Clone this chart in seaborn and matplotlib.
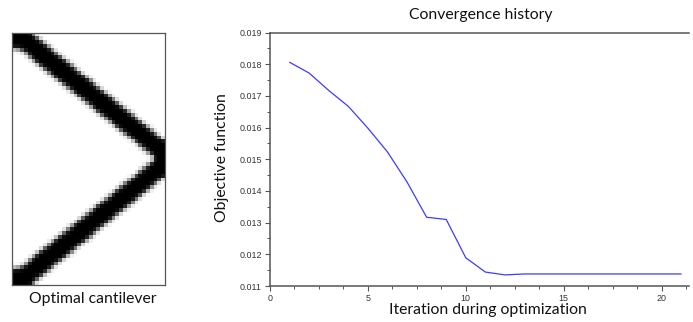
import numpy as np
import pandas as pd
import seaborn as sns
import matplotlib
matplotlib.use("Agg")
import matplotlib.pyplot as plt
from matplotlib.ticker import MultipleLocator, FormatStrFormatter

sns.set_theme(style="white")
plt.rcParams['font.family'] = ['Lato', 'DejaVu Sans']

iterations = list(range(1, 22))
objective = [.01806, .01772, .01717, .01667, .01598, .01523, .01428, .01317, .0131, .01189,
             .01144, .01135, .01138, .01138, .01138, .01138, .01138, .01138, .01138, .01138, .01138]

# upper strut of the cantilever: edges in element rows, one entry per element column
strut_top = [0, 0, 0, 0, 0, .5, 1.3, 2.1, 2.9, 3.7, 4.5, 5.4, 6.2, 7.0, 7.8, 8.6, 9.4, 10.2, 11, 11.8,
             12.6, 13.5, 14.3, 15.1, 15.9, 16.7, 17.5, 18.3, 19.1, 19.9, 20.7, 21.5, 22.4, 23.2, 24,
             24.8, 25.6, 26.4, 27.2, 28]
strut_bottom = [4.2, 4.3, 4.7, 5.4, 6.5, 7.3, 8.1, 8.9, 9.7, 10.5, 11.3, 12.1, 12.9, 13.7, 14.5, 15.3,
                16.1, 16.9, 17.7, 18.5, 19.3, 20.1, 20.9, 21.7, 22.5, 23.3, 24.1, 24.9, 25.7, 26.5,
                27.3, 28.1, 28.9, 29.7, 30.5, 31.3, 32.1, 33, 33, 33]
n_rows = 66

top = np.array(strut_top)[None, :]
bottom = np.array(strut_bottom)[None, :]
rows = np.arange(n_rows)[:, None]
density = np.clip(np.minimum(rows + 1, bottom) - np.maximum(rows, top), 0, 1)
density = np.clip(density + density[::-1], 0, 1)
# soften element edges a little, as the filtered design in the picture does
padded = np.pad(density, 1, mode="edge")
density = 0.6 * padded[1:-1, 1:-1] + 0.1 * (padded[:-2, 1:-1] + padded[2:, 1:-1]
                                             + padded[1:-1, :-2] + padded[1:-1, 2:])

W, H = 693, 322
fig = plt.figure(figsize=(W / 100, H / 100), dpi=100, facecolor="white")


def px_axes(l, t, r, b):
    return fig.add_axes([l / W, 1 - b / H, (r - l) / W, (b - t) / H])


grey = "#555555"
ink = "#111111"
label_size = 11.3
ax0 = px_axes(12.5, 32.5, 165, 284.5)
sns.heatmap(density, ax=ax0, cmap="gray_r", vmin=0, vmax=1, cbar=False,
            xticklabels=False, yticklabels=False)
for s in ax0.spines.values():
    s.set_visible(True)
    s.set_color(grey)
    s.set_linewidth(0.9)
fig.text(93 / W, 1 - 299 / H, "Optimal cantilever", ha="center", va="center",
         fontsize=label_size, color=ink)

ax = px_axes(270, 32.5, 689, 286)
df = pd.DataFrame({"iteration": iterations, "objective": objective})
sns.lineplot(data=df, x="iteration", y="objective", ax=ax, color="#3c3cff", linewidth=0.9)
ax.set_xlim(0, 21.4)
ax.set_ylim(0.011, 0.019)
ax.xaxis.set_major_locator(MultipleLocator(5))
ax.xaxis.set_minor_locator(MultipleLocator(1.25))
ax.yaxis.set_major_locator(MultipleLocator(0.001))
ax.yaxis.set_minor_locator(MultipleLocator(0.0005))
ax.yaxis.set_major_formatter(FormatStrFormatter('%.3f'))
ax.tick_params(axis="both", which="major", length=3.5, width=0.8, color=grey, labelsize=6.4,
               labelcolor="#333333", pad=2.5, left=True, bottom=True)
ax.tick_params(axis="both", which="minor", length=2, width=0.7, color=grey, left=True, bottom=True)
for lab in ax.get_xticklabels() + ax.get_yticklabels():
    lab.set_fontfamily("Liberation Sans")
for name, spine in ax.spines.items():
    spine.set_color(grey)
    spine.set_linewidth(1.1)
ax.spines["right"].set_visible(False)
ax.set_xlabel("")
ax.set_ylabel("")
fig.text(488 / W, 1 - 310 / H, "Iteration during optimization", ha="center", va="center",
         fontsize=label_size, color=ink)
fig.text(222 / W, 1 - 158 / H, "Objective function", ha="center", va="center", rotation=90,
         fontsize=label_size, color=ink)
fig.text(481 / W, 1 - 15 / H, "Convergence history", ha="center", va="center",
         fontsize=label_size, color=ink)
fig.savefig("out.png", dpi=100)
